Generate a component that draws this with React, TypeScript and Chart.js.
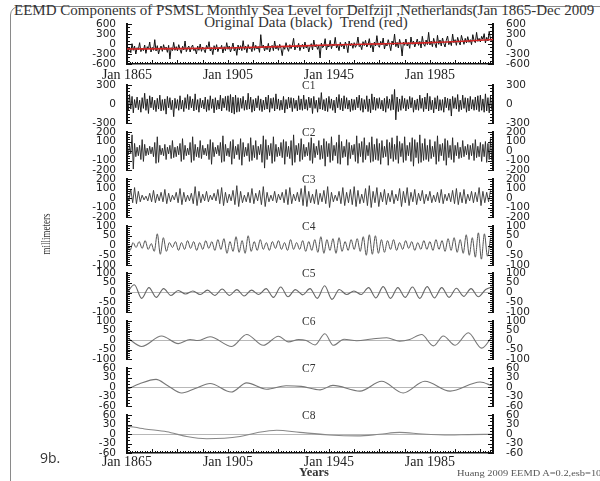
import React, { useEffect, useRef } from "react";
import { Chart, registerables } from "chart.js";

Chart.register(...registerables);

// ---------- axis / label data ----------
const X_MIN = 1865;
const X_MAX = 2010;
const X_TICK_YEARS = [1865, 1905, 1945, 1985];
const X_TICK_LABELS = ["Jan 1865", "Jan 1905", "Jan 1945", "Jan 1985"];

const TICKS_ORIG = [600, 300, 0, -300, -600];
const TICKS_C1 = [300, 0, -300];
const TICKS_C2 = [200, 100, 0, -100, -200];
const TICKS_C3 = [200, 100, 0, -100, -200];
const TICKS_C4 = [100, 50, 0, -50, -100];
const TICKS_C5 = [100, 50, 0, -50, -100];
const TICKS_C6 = [100, 50, 0, -50, -100];
const TICKS_C7 = [60, 30, 0, -30, -60];
const TICKS_C8 = [60, 30, 0, -30, -60];

// ---------- series data (millimeters) ----------
// original monthly sea level, sampled every half year from Jan 1865
const ORIG_STEP = 0.5;
const originalValues = [
  -40, -210, -90, -260, 10, -190, -60, -300, -110, -170,
  40, -230, -120, -200, -30, -280, -80, -150, 60, -240,
  -100, -190, 130, -210, -50, -300, -140, -60, -220, -20,
  -170, -90, -250, -40, -450, -110, -200, 50, -190, -80,
  -210, -20, -160, -280, -70, -180, 90, -230, -120, -60,
  -240, -100, -30, -200, -150, -300, -60, -190, 0, -220,
  -90, -170, -260, -40, -140, 70, -210, -110, -320, -50,
  -180, -20, -230, -100, -150, -40, -270, -80, -200, 40,
  -160, -60, -240, -120, 30, -210, -90, -340, -30, -180,
  -50, -200, 100, -170, -60, -260, -20, -150, -100, -230,
  60, -190, -40, -150, -80, -250, 280, -120, -30, -210,
  -60, -170, 20, -240, -100, -40, -200, 90, -150, -50,
  -190, -10, -130, -350, -60, -160, 40, -120, -220, -20,
  -140, -40, 170, -180, -60, -110, 20, -200, -70, -10,
  -150, 60, -120, -30, -240, -80, 10, -180, 120, -90,
  -20, -160, -60, -420, 30, -110, -60, 160, -180, -40,
  -90, 110, -140, 0, -60, 200, -120, -30, -200, 50,
  -80, -10, -150, 60, -40, -260, 90, -60, 20, -130,
  40, -100, -20, 210, -80, -30, -170, 70, -50, 110,
  -90, -20, 160, -110, 20, -240, 60, -60, 250, -40,
  -100, 80, -30, 180, -150, 20, -60, 130, -20, -200,
  90, -30, 300, -80, 50, -120, 140, -20, -360, 60,
  -40, 150, -60, 40, -130, 210, -10, 90, -90, 30,
  150, -40, 80, -120, 230, 0, -70, 120, -20, 350,
  -30, 90, -80, 170, 10, -110, 260, -10, 120, -60,
  180, 20, -90, 110, 240, -20, 90, -50, 300, 40,
  130, -40, 200, 60, -30, 260, 110, -10, 170, 30,
  220, 50, 130, -20, 280, 100, 40, 350, 80, 170,
  60, 230, 140, 310, 30, 200, 90, 380, 150, 60,
];

const trendYears = [1865, 1885, 1905, 1925, 1945, 1965, 1985, 2000, 2010];
const trendValues = [-150, -140, -120, -80, -30, 5, 40, 90, 135];

const C1_STEP = 0.5;
const c1Values = [
  90, -110, 150, -80, 120, -140, 70, -60, 110, -90,
  60, -130, 100, -70, 170, -100, 80, -150, 130, -60,
  110, -90, 60, -120, 90, -80, 140, -110, 70, -100,
  80, -160, 120, -60, 100, -90, 60, -200, 90, -70,
  70, -100, 130, -80, 60, -120, 100, -70, 150, -90,
  120, -60, 80, -110, 160, -90, 70, -130, 90, -60,
  60, -80, 110, -120, 70, -100, 130, -70, 80, -140,
  100, -90, 60, -80, 140, -110, 90, -60, 120, -100,
  130, -120, 150, -140, 110, -160, 140, -130, 100, -120,
  90, -70, 120, -100, 60, -90, 170, -80, 110, -130,
  70, -110, 90, -60, 130, -100, 80, -120, 60, -90,
  110, -80, 140, -130, 90, -70, 100, -110, 160, -80,
  80, -100, 60, -90, 120, -140, 70, -80, 110, -60,
  100, -120, 90, -70, 60, -110, 130, -90, 80, -100,
  140, -80, 70, -100, 110, -60, 90, -150, 120, -70,
  60, -130, 100, -80, 180, -90, 70, -110, 90, -120,
  120, -70, 80, -100, 60, -140, 110, -60, 150, -90,
  90, -110, 130, -70, 100, -80, 60, -120, 80, -100,
  70, -90, 110, -60, 140, -100, 90, -130, 70, -80,
  130, -120, 80, -140, 160, -90, 110, -100, 90, -70,
  100, -80, 60, -110, 90, -130, 120, -70, 80, -100,
  150, -90, 230, -250, 110, -120, 80, -100, 130, -70,
  90, -110, 70, -80, 120, -60, 100, -130, 60, -90,
  80, -100, 140, -70, 90, -120, 110, -80, 170, -110,
  120, -90, 60, -140, 100, -80, 130, -110, 70, -100,
  70, -130, 110, -60, 90, -100, 80, -190, 120, -70,
  100, -80, 150, -120, 60, -90, 140, -70, 100, -130,
  90, -110, 120, -80, 70, -100, 110, -90, 130, -120,
  140, -100, 80, -130, 160, -110, 100, -140, 120, -90,
];

const C2_STEP = 0.5;
const c2Values = [
  20, -40, 60, -30, 170, -190, 80, -60, 40, -50,
  60, -90, 120, -110, 70, -50, 30, -40, 50, -30,
  40, -60, 90, -130, 150, -120, 60, -40, 30, -50,
  70, -90, 40, -30, 60, -80, 110, -70, 40, -60,
  50, -40, 80, -110, 130, -90, 60, -50, 30, -40,
  90, -120, 150, -100, 70, -60, 40, -70, 110, -80,
  60, -40, 30, -50, 70, -90, 120, -140, 90, -60,
  40, -30, 60, -50, 90, -120, 160, -110, 70, -50,
  30, -60, 100, -140, 120, -80, 50, -40, 70, -90,
  130, -150, 90, -60, 40, -50, 80, -110, 140, -100,
  60, -70, 110, -90, 50, -40, 70, -120, 160, -180,
  120, -90, 60, -50, 80, -130, 150, -110, 70, -60,
  40, -50, 90, -70, 120, -140, 100, -60, 50, -80,
  110, -150, 170, -120, 60, -40, 80, -110, 130, -90,
  70, -60, 40, -50, 90, -100, 140, -130, 80, -70,
  50, -40, 110, -90, 60, -80, 130, -160, 100, -60,
  80, -120, 150, -100, 60, -50, 90, -130, 170, -140,
  100, -70, 50, -60, 120, -150, 90, -80, 60, -40,
  70, -110, 160, -130, 80, -60, 100, -120, 140, -90,
  60, -50, 90, -120, 150, -110, 70, -90, 130, -100,
  80, -140, 110, -70, 50, -60, 120, -150, 90, -80,
  140, -110, 70, -90, 160, -130, 100, -60, 80, -120,
  150, -100, 60, -50, 90, -110, 140, -160, 120, -70,
  90, -130, 170, -120, 80, -100, 130, -90, 60, -110,
  120, -80, 50, -60, 100, -140, 160, -110, 70, -50,
  80, -100, 130, -150, 110, -70, 60, -90, 140, -120,
  60, -50, 90, -80, 40, -70, 110, -60, 50, -40,
  70, -90, 60, -50, 80, -100, 120, -70, 50, -60,
  90, -110, 70, -60, 100, -120, 80, -90, 130, -100,
];

const C3_STEP = 0.75;
const c3Values = [
  40, -30, 90, -50, 110, -60, 70, -40, 30, -20,
  20, -30, 50, -40, 80, -50, 40, -30, 60, -40,
  90, -60, 50, -40, 30, -20, 60, -50, 100, -70,
  60, -40, 30, -30, 50, -60, 120, -80, 70, -50,
  40, -30, 70, -40, 30, -20, 50, -30, 90, -60,
  110, -80, 60, -50, 40, -30, 80, -70, 130, -90,
  70, -50, 30, -40, 60, -50, 100, -60, 50, -30,
  80, -70, 120, -90, 60, -40, 30, -30, 70, -50,
  40, -20, 60, -50, 90, -70, 110, -60, 40, -30,
  60, -40, 100, -80, 130, -90, 70, -50, 40, -60,
  90, -70, 50, -40, 80, -60, 120, -100, 60, -40,
  30, -30, 70, -60, 110, -80, 60, -50, 90, -70,
  120, -90, 80, -60, 40, -50, 100, -80, 130, -100,
  70, -50, 110, -90, 60, -40, 90, -70, 50, -40,
  80, -60, 40, -30, 100, -90, 70, -50, 110, -80,
  60, -40, 90, -70, 50, -30, 80, -60, 40, -30,
  70, -50, 30, -40, 60, -50, 90, -60, 40, -30,
  50, -40, 80, -60, 100, -70, 60, -50, 90, -60,
  40, -30, 70, -50, 60, -40, 110, -80, 70, -50,
  60, -40, 80,
];

// C4: successive extremes, ~1.2 yr apart
const C4_STEP = 1.2;
const c4Values = [
  10, -25, 15, -10, 20, -15, 25, -20, 10, -30,
  60, -45, 40, -30, 15, -10, 20, -25, 15, -20,
  25, -15, 20, -25, 15, -20, 25, -15, 20, -25,
  30, -20, 35, -40, 20, -30, 45, -35, 25, -40,
  50, -30, 20, -25, 30, -20, 15, -25, 20, -15,
  25, -20, 15, -25, 30, -20, 15, -20, 25, -30,
  20, -25, 30, -35, 45, -40, 30, -25, 35, -40,
  40, -30, 20, -25, 30, -20, 35, -30, 45, -50,
  55, -45, 50, -40, 30, -35, 25, -20, 30, -25,
  15, -20, 25, -15, 20, -25, 15, -20, 25, -20,
  20, -25, 30, -20, 25, -30, 35, -25, 40, -35,
  30, -40, 55, -50, 40, -60, 65, -70, 60, -55,
  40,
];

// C5: successive extremes, ~2.9 yr apart
const C5_STEP = 2.9;
const c5Values = [
  0, 40, -30, 25, -25, 20, -15, 10, -8, 8,
  -10, 12, -15, 18, -15, 15, -18, 12, -10, 20,
  -25, 28, -22, 15, -12, 20, -30, 35, -35, 15,
  -10, 8, -10, 25, -28, 30, -30, 25, -25, 28,
  -30, 30, -28, 25, -25, 22, -20, 20, -22, 15,
  30,
];

const c6Years = [
  1865.3, 1870.8, 1878.7, 1885.3, 1890, 1893, 1897.9, 1906.5, 1912.4, 1919,
  1925, 1929, 1933, 1936, 1939.5, 1943.4, 1946.7, 1951, 1956, 1962,
  1967.9, 1973, 1977, 1981.7, 1986.4, 1990.3, 1995, 2000.2, 2005.5, 2009.8,
];
const c6Values = [
  10, -34, 21, -19, 3, -3, 17, -34, 29, -28,
  20, -10, 2, -3, -26, 33, -28, 4, -4, 5,
  12, -6, 3, 29, -31, 21, -28, 38, -43, 21,
];

const c7Years = [
  1865.3, 1870, 1876.5, 1881, 1886.7, 1892, 1897.9, 1906.3, 1912.4, 1920.3,
  1928, 1934, 1941.5, 1946.6, 1957.3, 1965.9, 1974.4, 1983, 1993, 2004.9,
  2009.8,
];
const c7Values = [
  -7, 10, 24, 5, -19, -5, 11, -16, 13, -7,
  4, 2, -9, 5, -13, 18, -19, 18, -13, 16,
  3,
];

const c8Years = [
  1865.3, 1872, 1880.8, 1888.7, 1896.6, 1909.8, 1916.4, 1924.3, 1933.5, 1945,
  1956.3, 1965, 1973, 1982, 1993, 2000, 2009.8,
];
const c8Values = [
  25, 16, 7, -8, -15, -8, 4, 12, 5, -3,
  -6, -1, 5, 0, -3, -2, -1,
];

// ---------- helpers ----------
type Pt = { x: number; y: number };
const stepped = (vals: number[], step: number): Pt[] =>
  vals.map((v, i) => ({ x: X_MIN + i * step, y: v }));
const paired = (xs: number[], vals: number[]): Pt[] =>
  vals.map((v, i) => ({ x: xs[i], y: v }));

const SERIF = "'Liberation Serif', 'DejaVu Serif', serif";
const SANS = "'DejaVu Sans', 'Liberation Sans', sans-serif";

const PLOT_LEFT = 127;
const PLOT_RIGHT = 493;
const LEFT_AXIS_W = 42;
const RIGHT_AXIS_W = 37;
const PAD = 22;
const X_AXIS_H = 20;

type PanelCfg = {
  key: string;
  top: number;
  bottom: number;
  min: number;
  max: number;
  ticks: number[];
  minor: number;
  showX: boolean;
  xPad: number;
  zero: boolean;
  label: string;
  datasets: any[];
};

const line = (data: Pt[], color: string, width: number, smooth: boolean) => ({
  data,
  borderColor: color,
  borderWidth: width,
  pointRadius: 0,
  fill: false,
  tension: smooth ? 0.4 : 0,
  cubicInterpolationMode: smooth ? "monotone" : "default",
});

const PANELS: PanelCfg[] = [
  {
    key: "orig", top: 24, bottom: 64, min: -600, max: 600, ticks: TICKS_ORIG, minor: 100,
    showX: true, xPad: 3, zero: false, label: "",
    datasets: [
      line(paired(trendYears, trendValues), "#d42424", 1.6, true),
      line(stepped(originalValues, ORIG_STEP), "#111", 1, false),
    ],
  },
  {
    key: "c1", top: 85, bottom: 123, min: -300, max: 300, ticks: TICKS_C1, minor: 50,
    showX: false, xPad: 0, zero: false, label: "C1",
    datasets: [line(stepped(c1Values, C1_STEP), "#111", 0.9, false)],
  },
  {
    key: "c2", top: 132, bottom: 170, min: -200, max: 200, ticks: TICKS_C2, minor: 25,
    showX: false, xPad: 0, zero: false, label: "C2",
    datasets: [line(stepped(c2Values, C2_STEP), "#222", 0.9, false)],
  },
  {
    key: "c3", top: 179, bottom: 217, min: -200, max: 200, ticks: TICKS_C3, minor: 25,
    showX: false, xPad: 0, zero: false, label: "C3",
    datasets: [line(stepped(c3Values, C3_STEP), "#333", 0.9, false)],
  },
  {
    key: "c4", top: 226, bottom: 265, min: -100, max: 100, ticks: TICKS_C4, minor: 10,
    showX: false, xPad: 0, zero: false, label: "C4",
    datasets: [line(stepped(c4Values, C4_STEP), "#555", 1, true)],
  },
  {
    key: "c5", top: 273, bottom: 312, min: -100, max: 100, ticks: TICKS_C5, minor: 10,
    showX: false, xPad: 0, zero: true, label: "C5",
    datasets: [line(stepped(c5Values, C5_STEP), "#666", 1.1, true)],
  },
  {
    key: "c6", top: 321, bottom: 359, min: -100, max: 100, ticks: TICKS_C6, minor: 10,
    showX: false, xPad: 0, zero: true, label: "C6",
    datasets: [line(paired(c6Years, c6Values), "#777", 1.1, true)],
  },
  {
    key: "c7", top: 368, bottom: 406, min: -60, max: 60, ticks: TICKS_C7, minor: 10,
    showX: false, xPad: 0, zero: true, label: "C7",
    datasets: [line(paired(c7Years, c7Values), "#777", 1.1, true)],
  },
  {
    key: "c8", top: 415, bottom: 453, min: -60, max: 60, ticks: TICKS_C8, minor: 10,
    showX: true, xPad: 1, zero: true, label: "C8",
    datasets: [line(paired(c8Years, c8Values), "#888", 1.1, true)],
  },
];

// inward tick marks drawn from the chart's own scales
const innerTicks = {
  id: "innerTicks",
  afterDraw(chart: any, _args: any, opts: any) {
    const { ctx, chartArea, scales } = chart;
    const y = scales.y;
    const x = scales.x;
    ctx.save();
    ctx.strokeStyle = "#111";
    ctx.lineWidth = 1;
    ctx.beginPath();
    const minor = opts.minor as number;
    const majors = opts.majors as number[];
    for (let v = y.min; v <= y.max + 1e-6; v += minor) {
      const py = Math.round(y.getPixelForValue(v)) + 0.5;
      const len = majors.some((m) => Math.abs(m - v) < 1e-6) ? 5 : 3;
      ctx.moveTo(chartArea.left, py);
      ctx.lineTo(chartArea.left + len, py);
      ctx.moveTo(chartArea.right, py);
      ctx.lineTo(chartArea.right - len, py);
    }
    if (opts.showX) {
      for (let yr = X_MIN; yr <= X_MAX; yr += 1) {
        const px = Math.round(x.getPixelForValue(yr)) + 0.5;
        const len = (yr - X_MIN) % 10 === 0 ? 4 : 2;
        ctx.moveTo(px, chartArea.bottom);
        ctx.lineTo(px, chartArea.bottom - len);
      }
    }
    ctx.stroke();
    ctx.restore();
  },
};

function buildConfig(p: PanelCfg): any {
  const tickFont = { family: SANS, size: 10.5 };
  return {
    type: "line",
    data: { datasets: p.datasets },
    options: {
      animation: false,
      responsive: false,
      maintainAspectRatio: false,
      events: [],
      layout: { padding: { top: PAD, bottom: p.showX ? 0 : PAD, left: 0, right: 0 } },
      plugins: {
        legend: { display: false },
        tooltip: { enabled: false },
        innerTicks: { minor: p.minor, majors: p.ticks, showX: p.showX },
      },
      scales: {
        x: {
          type: "linear",
          min: X_MIN,
          max: X_MAX,
          display: p.showX,
          grid: { display: false, drawTicks: false },
          border: { display: true, color: "#111", width: 1.5 },
          afterBuildTicks: (s: any) => {
            s.ticks = X_TICK_YEARS.map((v) => ({ value: v }));
          },
          afterFit: (s: any) => {
            if (p.showX) s.height = X_AXIS_H;
          },
          ticks: {
            autoSkip: false,
            maxRotation: 0,
            padding: p.xPad,
            color: "#222",
            font: { family: SERIF, size: 14 },
            callback: (v: number) => X_TICK_LABELS[X_TICK_YEARS.indexOf(v)] ?? "",
          },
        },
        y: {
          type: "linear",
          position: "left",
          min: p.min,
          max: p.max,
          afterBuildTicks: (s: any) => {
            s.ticks = p.ticks.map((v) => ({ value: v }));
          },
          afterFit: (s: any) => {
            s.width = LEFT_AXIS_W;
          },
          grid: {
            drawTicks: false,
            lineWidth: 1,
            color: (c: any) =>
              p.zero && c.tick && c.tick.value === 0 ? "#b8b8b8" : "rgba(0,0,0,0)",
          },
          border: { display: true, color: "#111", width: 2 },
          ticks: { autoSkip: false, padding: 11, color: "#222", font: tickFont },
        },
        y2: {
          type: "linear",
          position: "right",
          min: p.min,
          max: p.max,
          afterBuildTicks: (s: any) => {
            s.ticks = p.ticks.map((v) => ({ value: v }));
          },
          afterFit: (s: any) => {
            s.width = RIGHT_AXIS_W;
          },
          grid: { display: false, drawTicks: false },
          border: { display: true, color: "#111", width: 2 },
          ticks: { autoSkip: false, padding: 13, color: "#222", font: tickFont },
        },
      },
    },
    plugins: [innerTicks],
  };
}

function Panel({ p }: { p: PanelCfg }) {
  const ref = useRef<HTMLCanvasElement>(null);
  const left = PLOT_LEFT - LEFT_AXIS_W;
  const width = LEFT_AXIS_W + (PLOT_RIGHT - PLOT_LEFT) + RIGHT_AXIS_W;
  const top = p.top - PAD;
  const height = p.bottom - p.top + PAD + (p.showX ? X_AXIS_H : PAD);
  useEffect(() => {
    const chart = new Chart(ref.current as HTMLCanvasElement, buildConfig(p));
    return () => chart.destroy();
  }, []);
  return (
    <canvas
      ref={ref}
      width={width}
      height={height}
      style={{ position: "absolute", left, top, width, height }}
    />
  );
}

const txt = (extra: React.CSSProperties): React.CSSProperties => ({
  position: "absolute",
  whiteSpace: "nowrap",
  lineHeight: 1,
  color: "#222",
  ...extra,
});

export default function App() {
  return (
    <div
      style={{
        position: "fixed",
        left: 0,
        top: 0,
        width: 600,
        height: 481,
        overflow: "hidden",
        background: "#fff",
      }}
    >
      <div
        style={{
          position: "absolute",
          left: 10,
          top: 6,
          width: 640,
          height: 540,
          border: "1px solid #8a8a8a",
          borderRadius: 9,
        }}
      />
      <div style={txt({ left: 14, top: 3, fontFamily: SERIF, fontSize: 15, color: "#333" })}>
        EEMD Components of PSMSL Monthly Sea Level for Delfzijl ,Netherlands(Jan 1865-Dec 2009
      </div>
      <div
        style={txt({
          left: 306,
          top: 15,
          transform: "translateX(-50%)",
          fontFamily: SERIF,
          fontSize: 15,
          color: "#333",
        })}
      >
        Original Data (black)&nbsp; Trend (red)
      </div>
      {PANELS.map((p) => (
        <Panel key={p.key} p={p} />
      ))}
      {PANELS.filter((p) => p.label).map((p) => (
        <div
          key={"l" + p.key}
          style={txt({ left: 302, top: p.top - 5, fontFamily: SERIF, fontSize: 11.5, color: "#333" })}
        >
          {p.label}
        </div>
      ))}
      <div
        style={txt({
          left: 47,
          top: 234,
          transform: "translate(-50%, -50%) rotate(-90deg) scaleX(0.78)",
          fontFamily: SERIF,
          fontSize: 11.5,
          color: "#333",
        })}
      >
        millimeters
      </div>
      <div style={txt({ left: 40, top: 451, fontFamily: "'Open Sans', 'Liberation Sans', sans-serif", fontSize: 14, color: "#333" })}>
        9b.
      </div>
      <div
        style={txt({
          left: 314,
          top: 466,
          transform: "translateX(-50%)",
          fontFamily: SERIF,
          fontSize: 12.5,
          fontWeight: "bold",
          color: "#333",
        })}
      >
        Years
      </div>
      <div
        style={txt({
          left: 457,
          top: 470,
          transform: "scaleX(1.3)",
          transformOrigin: "left center",
          fontFamily: SERIF,
          fontSize: 8,
          color: "#555",
        })}
      >
        Huang 2009 EEMD A=0.2,esb=100
      </div>
    </div>
  );
}
